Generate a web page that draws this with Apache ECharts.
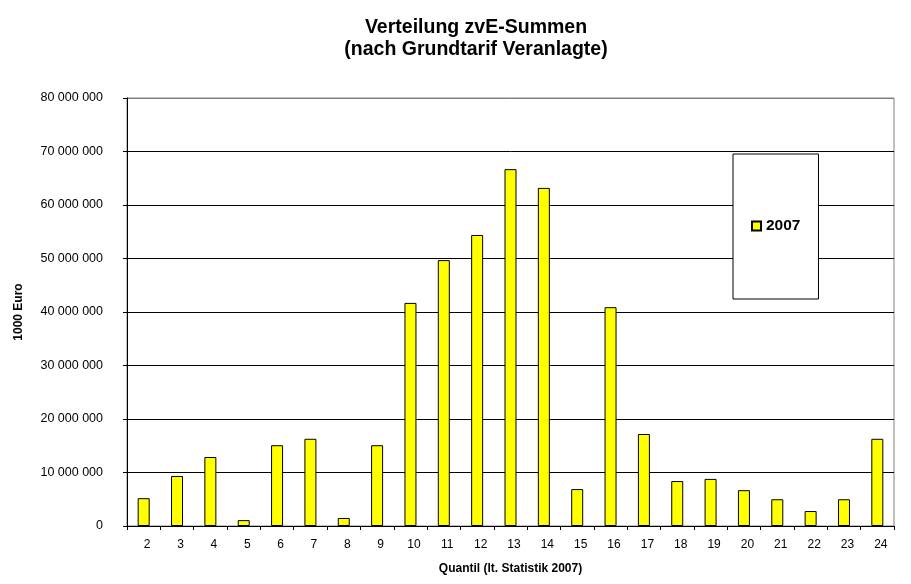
<!DOCTYPE html>
<html>
<head>
<meta charset="utf-8">
<script src="https://cdn.jsdelivr.net/npm/echarts@6/dist/echarts.min.js"></script>
<style>
html,body{margin:0;padding:0;background:#fff;}
#chart{width:911px;height:584px;}
</style>
</head>
<body>
<div id="chart"></div>
<script>
const categories = ['2','3','4','5','6','7','8','9','10','11','12','13','14','15','16','17','18','19','20','21','22','23','24'];
const values2007 = [5200000, 9350000, 12900000, 1100000, 15100000, 16300000, 1500000, 15100000, 41700000, 49700000, 54400000, 66700000, 63200000, 6900000, 40900000, 17200000, 8400000, 8800000, 6700000, 5000000, 2800000, 5000000, 16300000];
const seriesName = '2007';
const titleText = 'Verteilung zvE-Summen\n(nach Grundtarif Veranlagte)';
const xName = 'Quantil (lt. Statistik 2007)';
const yName = '1000 Euro';

function fmt(v){
  return String(v).replace(/\B(?=(\d{3})+(?!\d))/g, ' ');
}

const chart = echarts.init(document.getElementById('chart'), null, {renderer:'canvas'});
const font = 'Liberation Sans, Arial, sans-serif';
chart.setOption({
  animation:false,
  backgroundColor:'#fff',
  textStyle:{fontFamily:font},
  title:{
    text:titleText,
    left:471,
    textAlign:'center',
    top:12,
    textStyle:{fontFamily:font,fontSize:19.5,fontWeight:'bold',color:'#000',lineHeight:22}
  },
  legend:{
    data:[seriesName],
    left:733,
    top:154,
    orient:'vertical',
    backgroundColor:'#fff',
    borderColor:'#000',
    borderWidth:1,
    padding:[64,18,65,18],
    itemWidth:9,
    itemHeight:9,
    itemGap:5,
    icon:'rect',
    textStyle:{fontFamily:font,fontSize:15.5,fontWeight:'bold',color:'#000',padding:[0,0,0,0]}
  },
  grid:{
    left:127,right:17,top:98,bottom:58,
    show:true,borderColor:'#808080',borderWidth:1,backgroundColor:'#fff',
    containLabel:false
  },
  xAxis:{
    type:'category',
    data:categories,
    name:xName,
    nameLocation:'middle',
    nameGap:37,
    nameTextStyle:{fontFamily:font,fontSize:12,fontWeight:'bold',color:'#000'},
    axisLine:{lineStyle:{color:'#000',width:1}},
    axisTick:{show:true,length:4,lineStyle:{color:'#000'}},
    axisLabel:{fontFamily:font,fontSize:12,color:'#000',margin:13,padding:[0,0,0,7]},
    splitLine:{show:false}
  },
  yAxis:{
    type:'value',
    min:0,max:80000000,interval:10000000,
    name:yName,
    nameLocation:'middle',
    nameGap:102,
    nameTextStyle:{fontFamily:font,fontSize:12,fontWeight:'bold',color:'#000'},
    axisLine:{show:true,lineStyle:{color:'#000',width:1}},
    axisTick:{show:true,length:4,lineStyle:{color:'#000'}},
    axisLabel:{fontFamily:font,fontSize:12.5,color:'#000',margin:24,formatter:fmt},
    splitLine:{show:true,lineStyle:{color:['#000','#000','#000','#000','#000','#000','#000','#000','#808080'],width:1}}
  },
  series:[{
    name:seriesName,
    type:'bar',
    data:values2007,
    barWidth:12,
    itemStyle:{color:'#FFFF00',borderColor:'#000',borderWidth:1}
  }]
});
</script>
</body>
</html>
